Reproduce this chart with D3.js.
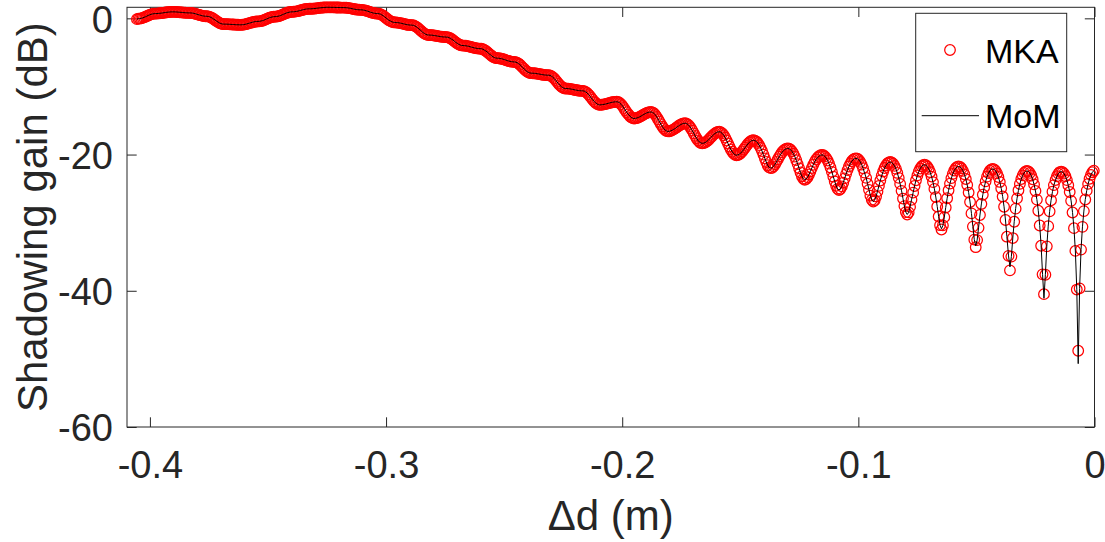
<!DOCTYPE html>
<html>
<head>
<meta charset="utf-8">
<script src="https://cdn.jsdelivr.net/npm/d3@7"></script>
<style>
  html, body { margin: 0; padding: 0; background: #fff; }
  svg { display: block; }
  text { font-family: "Liberation Sans", Arial, Helvetica, sans-serif; }
</style>
</head>
<body>
<svg id="chart" width="1105" height="542"></svg>
<script>
// Path difference Δd (m) at which both solvers were evaluated
const deltaD = [
-0.4055,
-0.4049,-0.4043,-0.4037,-0.4031,-0.4025,-0.4019,-0.4013,-0.4007,-0.4001,-0.3995,-0.3988,-0.3982,
-0.3976,-0.3970,-0.3964,-0.3958,-0.3952,-0.3946,-0.3940,-0.3934,-0.3928,-0.3922,-0.3916,-0.3910,
-0.3904,-0.3898,-0.3892,-0.3886,-0.3880,-0.3874,-0.3868,-0.3862,-0.3856,-0.3850,-0.3844,-0.3838,
-0.3832,-0.3826,-0.3820,-0.3814,-0.3808,-0.3802,-0.3796,-0.3790,-0.3783,-0.3777,-0.3771,-0.3765,
-0.3759,-0.3753,-0.3747,-0.3741,-0.3735,-0.3729,-0.3723,-0.3717,-0.3711,-0.3705,-0.3699,-0.3693,
-0.3687,-0.3681,-0.3675,-0.3669,-0.3663,-0.3657,-0.3651,-0.3645,-0.3639,-0.3633,-0.3627,-0.3621,
-0.3615,-0.3609,-0.3603,-0.3597,-0.3591,-0.3584,-0.3578,-0.3572,-0.3566,-0.3560,-0.3554,-0.3548,
-0.3542,-0.3536,-0.3530,-0.3524,-0.3518,-0.3512,-0.3506,-0.3500,-0.3494,-0.3488,-0.3482,-0.3476,
-0.3470,-0.3464,-0.3458,-0.3452,-0.3446,-0.3440,-0.3434,-0.3428,-0.3422,-0.3416,-0.3410,-0.3404,
-0.3398,-0.3392,-0.3386,-0.3379,-0.3373,-0.3367,-0.3361,-0.3355,-0.3349,-0.3343,-0.3337,-0.3331,
-0.3325,-0.3319,-0.3313,-0.3307,-0.3301,-0.3295,-0.3289,-0.3283,-0.3277,-0.3271,-0.3265,-0.3259,
-0.3253,-0.3247,-0.3241,-0.3235,-0.3229,-0.3223,-0.3217,-0.3211,-0.3205,-0.3199,-0.3193,-0.3187,
-0.3180,-0.3174,-0.3168,-0.3162,-0.3156,-0.3150,-0.3144,-0.3138,-0.3132,-0.3126,-0.3120,-0.3114,
-0.3108,-0.3102,-0.3096,-0.3090,-0.3084,-0.3078,-0.3072,-0.3066,-0.3060,-0.3054,-0.3048,-0.3042,
-0.3036,-0.3030,-0.3024,-0.3018,-0.3012,-0.3006,-0.3000,-0.2994,-0.2988,-0.2981,-0.2975,-0.2969,
-0.2963,-0.2957,-0.2951,-0.2945,-0.2939,-0.2933,-0.2927,-0.2921,-0.2915,-0.2909,-0.2903,-0.2897,
-0.2891,-0.2885,-0.2879,-0.2873,-0.2867,-0.2861,-0.2855,-0.2849,-0.2843,-0.2837,-0.2831,-0.2825,
-0.2819,-0.2813,-0.2807,-0.2801,-0.2795,-0.2789,-0.2783,-0.2776,-0.2770,-0.2764,-0.2758,-0.2752,
-0.2746,-0.2740,-0.2734,-0.2728,-0.2722,-0.2716,-0.2710,-0.2704,-0.2698,-0.2692,-0.2686,-0.2680,
-0.2674,-0.2668,-0.2662,-0.2656,-0.2650,-0.2644,-0.2638,-0.2632,-0.2626,-0.2620,-0.2614,-0.2608,
-0.2602,-0.2596,-0.2590,-0.2584,-0.2577,-0.2571,-0.2565,-0.2559,-0.2553,-0.2547,-0.2541,-0.2535,
-0.2529,-0.2523,-0.2517,-0.2511,-0.2505,-0.2499,-0.2493,-0.2487,-0.2481,-0.2475,-0.2469,-0.2463,
-0.2457,-0.2451,-0.2445,-0.2439,-0.2433,-0.2427,-0.2421,-0.2415,-0.2409,-0.2403,-0.2397,-0.2391,
-0.2385,-0.2378,-0.2372,-0.2366,-0.2360,-0.2354,-0.2348,-0.2342,-0.2336,-0.2330,-0.2324,-0.2318,
-0.2312,-0.2306,-0.2300,-0.2294,-0.2288,-0.2282,-0.2276,-0.2270,-0.2264,-0.2258,-0.2252,-0.2246,
-0.2240,-0.2234,-0.2228,-0.2222,-0.2216,-0.2210,-0.2204,-0.2198,-0.2192,-0.2186,-0.2180,-0.2173,
-0.2167,-0.2161,-0.2155,-0.2149,-0.2143,-0.2137,-0.2131,-0.2125,-0.2119,-0.2113,-0.2107,-0.2101,
-0.2095,-0.2089,-0.2083,-0.2077,-0.2071,-0.2065,-0.2059,-0.2053,-0.2047,-0.2041,-0.2035,-0.2029,
-0.2023,-0.2017,-0.2011,-0.2005,-0.1999,-0.1993,-0.1987,-0.1981,-0.1974,-0.1968,-0.1962,-0.1956,
-0.1950,-0.1944,-0.1938,-0.1932,-0.1926,-0.1920,-0.1914,-0.1908,-0.1902,-0.1896,-0.1890,-0.1884,
-0.1878,-0.1872,-0.1866,-0.1860,-0.1854,-0.1848,-0.1842,-0.1836,-0.1830,-0.1824,-0.1818,-0.1812,
-0.1806,-0.1800,-0.1794,-0.1788,-0.1782,-0.1775,-0.1769,-0.1763,-0.1757,-0.1751,-0.1745,-0.1739,
-0.1733,-0.1727,-0.1721,-0.1715,-0.1709,-0.1703,-0.1697,-0.1691,-0.1685,-0.1679,-0.1673,-0.1667,
-0.1661,-0.1655,-0.1649,-0.1643,-0.1637,-0.1631,-0.1625,-0.1619,-0.1613,-0.1607,-0.1601,-0.1595,
-0.1589,-0.1583,-0.1577,-0.1570,-0.1564,-0.1558,-0.1552,-0.1546,-0.1540,-0.1534,-0.1528,-0.1522,
-0.1516,-0.1510,-0.1504,-0.1498,-0.1492,-0.1486,-0.1480,-0.1474,-0.1468,-0.1462,-0.1456,-0.1450,
-0.1444,-0.1438,-0.1432,-0.1426,-0.1420,-0.1414,-0.1408,-0.1402,-0.1396,-0.1390,-0.1384,-0.1378,
-0.1371,-0.1365,-0.1359,-0.1353,-0.1347,-0.1341,-0.1335,-0.1329,-0.1323,-0.1317,-0.1311,-0.1305,
-0.1299,-0.1293,-0.1287,-0.1281,-0.1275,-0.1269,-0.1263,-0.1257,-0.1251,-0.1245,-0.1239,-0.1233,
-0.1227,-0.1221,-0.1215,-0.1209,-0.1203,-0.1197,-0.1191,-0.1185,-0.1179,-0.1172,-0.1166,-0.1160,
-0.1154,-0.1148,-0.1142,-0.1136,-0.1130,-0.1124,-0.1118,-0.1112,-0.1106,-0.1100,-0.1094,-0.1088,
-0.1082,-0.1076,-0.1070,-0.1064,-0.1058,-0.1052,-0.1046,-0.1040,-0.1034,-0.1028,-0.1022,-0.1016,
-0.1010,-0.1004,-0.0998,-0.0992,-0.0986,-0.0980,-0.0974,-0.0967,-0.0961,-0.0955,-0.0949,-0.0943,
-0.0937,-0.0931,-0.0925,-0.0919,-0.0913,-0.0907,-0.0901,-0.0895,-0.0889,-0.0883,-0.0877,-0.0871,
-0.0865,-0.0859,-0.0853,-0.0847,-0.0841,-0.0835,-0.0829,-0.0823,-0.0817,-0.0811,-0.0805,-0.0799,
-0.0793,-0.0787,-0.0781,-0.0775,-0.0768,-0.0762,-0.0756,-0.0750,-0.0744,-0.0738,-0.0732,-0.0726,
-0.0720,-0.0714,-0.0708,-0.0702,-0.0696,-0.0690,-0.0684,-0.0678,-0.0672,-0.0666,-0.0660,-0.0654,
-0.0648,-0.0642,-0.0636,-0.0630,-0.0624,-0.0618,-0.0612,-0.0606,-0.0600,-0.0594,-0.0588,-0.0582,
-0.0576,-0.0569,-0.0563,-0.0557,-0.0551,-0.0545,-0.0539,-0.0533,-0.0527,-0.0521,-0.0515,-0.0509,
-0.0503,-0.0497,-0.0491,-0.0485,-0.0479,-0.0473,-0.0467,-0.0461,-0.0455,-0.0449,-0.0443,-0.0437,
-0.0431,-0.0425,-0.0419,-0.0413,-0.0407,-0.0401,-0.0395,-0.0389,-0.0383,-0.0377,-0.0371,-0.0364,
-0.0358,-0.0352,-0.0346,-0.0340,-0.0334,-0.0328,-0.0322,-0.0316,-0.0310,-0.0304,-0.0298,-0.0292,
-0.0286,-0.0280,-0.0274,-0.0268,-0.0262,-0.0256,-0.0250,-0.0244,-0.0238,-0.0232,-0.0226,-0.0220,
-0.0214,-0.0208,-0.0202,-0.0196,-0.0190,-0.0184,-0.0178,-0.0172,-0.0165,-0.0159,-0.0153,-0.0147,
-0.0141,-0.0135,-0.0129,-0.0123,-0.0117,-0.0111,-0.0105,-0.0099,-0.0093,-0.0087,-0.0081,-0.0075,
-0.0069,-0.0063,-0.0057,-0.0051,-0.0045,-0.0039,-0.0033,-0.0027,-0.0021,-0.0015,-0.0009,-0.0003
];

// Shadowing gain (dB) from the MoM solver, drawn as a solid line
const momGain = [
-0.12,
-0.05,-0.04,0.00,0.06,0.14,0.23,0.33,0.42,0.51,0.59,0.65,0.69,
0.70,0.70,0.72,0.74,0.76,0.79,0.83,0.86,0.89,0.91,0.93,0.95,
0.95,0.95,0.94,0.93,0.91,0.89,0.88,0.86,0.84,0.82,0.81,0.80,
0.80,0.79,0.77,0.73,0.68,0.61,0.55,0.49,0.43,0.37,0.33,0.31,
0.30,0.28,0.22,0.13,0.01,-0.13,-0.28,-0.42,-0.56,-0.68,-0.77,-0.83,
-0.85,-0.85,-0.86,-0.86,-0.88,-0.89,-0.90,-0.91,-0.93,-0.94,-0.94,-0.95,
-0.95,-0.94,-0.92,-0.88,-0.83,-0.76,-0.70,-0.64,-0.58,-0.52,-0.48,-0.46,
-0.45,-0.44,-0.40,-0.35,-0.28,-0.19,-0.10,-0.01,0.08,0.15,0.20,0.24,
0.25,0.26,0.30,0.35,0.43,0.51,0.60,0.69,0.78,0.85,0.90,0.94,
0.95,0.96,0.98,1.02,1.06,1.12,1.18,1.23,1.29,1.33,1.37,1.39,
1.40,1.40,1.41,1.43,1.45,1.47,1.50,1.53,1.55,1.57,1.59,1.60,
1.62,1.62,1.62,1.61,1.61,1.61,1.60,1.59,1.59,1.59,1.58,1.58,
1.58,1.57,1.56,1.53,1.50,1.46,1.42,1.37,1.33,1.30,1.27,1.26,
1.25,1.24,1.21,1.17,1.11,1.05,0.98,0.90,0.84,0.78,0.74,0.71,
0.70,0.68,0.61,0.51,0.38,0.22,0.05,-0.12,-0.28,-0.41,-0.51,-0.58,
-0.60,-0.61,-0.63,-0.66,-0.70,-0.75,-0.80,-0.85,-0.90,-0.94,-0.97,-0.99,
-1.00,-1.02,-1.10,-1.21,-1.36,-1.54,-1.73,-1.91,-2.09,-2.24,-2.35,-2.43,
-2.45,-2.46,-2.47,-2.49,-2.53,-2.56,-2.60,-2.64,-2.68,-2.71,-2.73,-2.74,
-2.75,-2.77,-2.83,-2.93,-3.06,-3.21,-3.38,-3.54,-3.69,-3.82,-3.92,-3.98,
-4.00,-4.01,-4.03,-4.07,-4.11,-4.17,-4.23,-4.28,-4.34,-4.38,-4.42,-4.44,
-4.45,-4.47,-4.54,-4.65,-4.80,-4.97,-5.15,-5.33,-5.50,-5.65,-5.76,-5.83,
-5.85,-5.86,-5.89,-5.93,-5.99,-6.05,-6.13,-6.20,-6.26,-6.32,-6.36,-6.39,
-6.40,-6.43,-6.51,-6.64,-6.81,-7.01,-7.23,-7.44,-7.64,-7.81,-7.94,-8.02,
-8.05,-8.06,-8.07,-8.09,-8.13,-8.16,-8.20,-8.24,-8.28,-8.31,-8.33,-8.34,
-8.35,-8.38,-8.48,-8.64,-8.84,-9.07,-9.33,-9.58,-9.81,-10.01,-10.17,-10.27,
-10.30,-10.31,-10.32,-10.35,-10.39,-10.43,-10.48,-10.52,-10.56,-10.60,-10.63,-10.64,
-10.65,-10.68,-10.79,-10.95,-11.16,-11.41,-11.68,-11.94,-12.19,-12.40,-12.56,-12.67,
-12.70,-12.69,-12.67,-12.63,-12.59,-12.53,-12.48,-12.42,-12.36,-12.32,-12.28,-12.26,
-12.25,-12.29,-12.41,-12.61,-12.86,-13.16,-13.48,-13.79,-14.09,-14.34,-14.54,-14.66,
-14.70,-14.68,-14.64,-14.56,-14.46,-14.35,-14.23,-14.10,-13.99,-13.89,-13.81,-13.77,
-13.75,-13.80,-13.94,-14.17,-14.46,-14.81,-15.18,-15.54,-15.89,-16.18,-16.41,-16.55,
-16.60,-16.58,-16.52,-16.42,-16.30,-16.16,-16.00,-15.84,-15.70,-15.58,-15.48,-15.42,
-15.40,-15.45,-15.60,-15.83,-16.14,-16.49,-16.88,-17.26,-17.61,-17.92,-18.15,-18.30,
-18.35,-18.32,-18.24,-18.10,-17.93,-17.72,-17.50,-17.28,-17.08,-16.90,-16.76,-16.68,
-16.65,-16.71,-16.88,-17.16,-17.51,-17.93,-18.38,-18.82,-19.24,-19.59,-19.87,-20.04,
-20.10,-20.06,-19.95,-19.78,-19.55,-19.28,-19.00,-18.72,-18.45,-18.22,-18.05,-17.94,
-17.90,-17.95,-18.08,-18.31,-18.62,-19.02,-19.48,-20.01,-20.56,-21.10,-21.57,-21.89,
-22.00,-21.93,-21.73,-21.43,-21.07,-20.69,-20.31,-19.97,-19.66,-19.42,-19.24,-19.14,
-19.10,-19.15,-19.29,-19.54,-19.87,-20.30,-20.82,-21.40,-22.02,-22.64,-23.18,-23.56,
-23.70,-23.60,-23.33,-22.93,-22.46,-21.97,-21.50,-21.08,-20.72,-20.43,-20.22,-20.09,
-20.05,-20.10,-20.26,-20.52,-20.88,-21.34,-21.90,-22.55,-23.25,-23.95,-24.58,-25.04,
-25.20,-25.06,-24.68,-24.13,-23.50,-22.87,-22.28,-21.76,-21.33,-20.99,-20.75,-20.60,
-20.55,-20.61,-20.78,-21.07,-21.48,-22.01,-22.66,-23.42,-24.28,-25.18,-26.03,-26.66,
-26.90,-26.70,-26.15,-25.41,-24.60,-23.81,-23.10,-22.49,-21.98,-21.60,-21.32,-21.16,
-21.10,-21.16,-21.35,-21.66,-22.11,-22.70,-23.43,-24.31,-25.33,-26.46,-27.57,-28.45,
-28.80,-28.49,-27.69,-26.65,-25.59,-24.62,-23.77,-23.06,-22.49,-22.05,-21.74,-21.56,
-21.50,-21.57,-21.77,-22.10,-22.59,-23.23,-24.04,-25.04,-26.24,-27.62,-29.09,-30.37,
-30.90,-30.40,-29.19,-27.77,-26.42,-25.25,-24.26,-23.46,-22.83,-22.35,-22.01,-21.82,
-21.75,-21.82,-22.03,-22.39,-22.90,-23.59,-24.47,-25.58,-26.96,-28.64,-30.58,-32.49,
-33.40,-32.56,-30.76,-28.88,-27.25,-25.90,-24.80,-23.93,-23.24,-22.73,-22.38,-22.17,
-22.10,-22.17,-22.39,-22.76,-23.30,-24.02,-24.96,-26.15,-27.67,-29.61,-32.06,-34.88,
-36.50,-34.98,-32.26,-29.86,-27.94,-26.43,-25.25,-24.31,-23.59,-23.06,-22.69,-22.47,
-22.40,-22.47,-22.70,-23.08,-23.63,-24.38,-25.35,-26.61,-28.25,-30.41,-33.39,-37.59,
-41.10,-37.64,-33.48,-30.51,-28.34,-26.71,-25.45,-24.48,-23.73,-23.18,-22.80,-22.57,
-22.50,-22.58,-22.80,-23.19,-23.75,-24.51,-25.50,-26.80,-28.50,-30.81,-34.15,-39.82,
-50.70,-39.64,-33.95,-30.61,-28.30,-26.60,-25.30,-24.31,-23.55,-22.99,-22.60,-22.38
];

// Shadowing gain (dB) from the MKA model, drawn as open circles
const mkaGain = [
-0.12,
-0.05,-0.04,0.00,0.06,0.14,0.23,0.33,0.42,0.51,0.59,0.65,0.69,
0.70,0.70,0.72,0.74,0.76,0.79,0.83,0.86,0.89,0.91,0.93,0.95,
0.95,0.95,0.94,0.93,0.91,0.89,0.88,0.86,0.84,0.82,0.81,0.80,
0.80,0.79,0.77,0.73,0.68,0.61,0.55,0.49,0.43,0.37,0.33,0.31,
0.30,0.28,0.22,0.13,0.01,-0.13,-0.28,-0.42,-0.56,-0.68,-0.77,-0.83,
-0.85,-0.85,-0.86,-0.86,-0.88,-0.89,-0.90,-0.91,-0.93,-0.94,-0.94,-0.95,
-0.95,-0.94,-0.92,-0.88,-0.83,-0.76,-0.70,-0.64,-0.58,-0.52,-0.48,-0.46,
-0.45,-0.44,-0.40,-0.35,-0.28,-0.19,-0.10,-0.01,0.08,0.15,0.20,0.24,
0.25,0.26,0.30,0.35,0.43,0.51,0.60,0.69,0.78,0.85,0.90,0.94,
0.95,0.96,0.98,1.02,1.06,1.12,1.18,1.23,1.29,1.33,1.37,1.39,
1.40,1.40,1.41,1.43,1.45,1.47,1.50,1.53,1.55,1.57,1.59,1.60,
1.62,1.62,1.62,1.61,1.61,1.61,1.60,1.59,1.59,1.59,1.58,1.58,
1.58,1.57,1.56,1.53,1.50,1.46,1.42,1.37,1.33,1.30,1.27,1.26,
1.25,1.24,1.21,1.17,1.11,1.05,0.98,0.90,0.84,0.78,0.74,0.71,
0.70,0.68,0.61,0.51,0.38,0.22,0.05,-0.12,-0.28,-0.41,-0.51,-0.58,
-0.60,-0.61,-0.63,-0.66,-0.70,-0.75,-0.80,-0.85,-0.90,-0.94,-0.97,-0.99,
-1.00,-1.02,-1.10,-1.21,-1.36,-1.54,-1.73,-1.91,-2.09,-2.24,-2.35,-2.43,
-2.45,-2.46,-2.47,-2.49,-2.53,-2.56,-2.60,-2.64,-2.68,-2.71,-2.73,-2.74,
-2.75,-2.77,-2.83,-2.93,-3.06,-3.21,-3.38,-3.54,-3.69,-3.82,-3.92,-3.98,
-4.00,-4.01,-4.03,-4.07,-4.11,-4.17,-4.23,-4.28,-4.34,-4.38,-4.42,-4.44,
-4.45,-4.47,-4.54,-4.65,-4.80,-4.97,-5.15,-5.33,-5.50,-5.65,-5.76,-5.83,
-5.85,-5.86,-5.89,-5.93,-5.99,-6.05,-6.13,-6.20,-6.26,-6.32,-6.36,-6.39,
-6.40,-6.43,-6.51,-6.64,-6.81,-7.01,-7.23,-7.44,-7.64,-7.81,-7.94,-8.02,
-8.05,-8.06,-8.07,-8.09,-8.13,-8.16,-8.20,-8.24,-8.28,-8.31,-8.33,-8.34,
-8.35,-8.38,-8.48,-8.64,-8.84,-9.07,-9.33,-9.58,-9.81,-10.01,-10.17,-10.27,
-10.30,-10.31,-10.32,-10.35,-10.39,-10.43,-10.48,-10.52,-10.56,-10.60,-10.63,-10.64,
-10.65,-10.68,-10.79,-10.95,-11.16,-11.41,-11.68,-11.94,-12.19,-12.40,-12.56,-12.67,
-12.70,-12.69,-12.67,-12.63,-12.59,-12.53,-12.48,-12.42,-12.36,-12.32,-12.28,-12.26,
-12.25,-12.29,-12.41,-12.61,-12.86,-13.16,-13.48,-13.79,-14.09,-14.34,-14.54,-14.66,
-14.70,-14.68,-14.64,-14.56,-14.46,-14.35,-14.23,-14.10,-13.99,-13.89,-13.81,-13.77,
-13.75,-13.80,-13.94,-14.17,-14.46,-14.81,-15.18,-15.54,-15.89,-16.18,-16.41,-16.55,
-16.60,-16.58,-16.52,-16.42,-16.30,-16.16,-16.00,-15.84,-15.70,-15.58,-15.48,-15.42,
-15.40,-15.45,-15.60,-15.83,-16.14,-16.49,-16.88,-17.26,-17.61,-17.92,-18.15,-18.30,
-18.35,-18.32,-18.24,-18.10,-17.93,-17.72,-17.50,-17.28,-17.08,-16.90,-16.76,-16.68,
-16.65,-16.71,-16.88,-17.16,-17.51,-17.93,-18.38,-18.82,-19.24,-19.59,-19.87,-20.04,
-20.10,-20.06,-19.95,-19.78,-19.55,-19.28,-19.00,-18.72,-18.45,-18.22,-18.05,-17.94,
-17.90,-17.95,-18.08,-18.31,-18.62,-19.02,-19.48,-20.01,-20.56,-21.10,-21.57,-21.89,
-22.00,-21.93,-21.73,-21.43,-21.07,-20.69,-20.31,-19.97,-19.66,-19.42,-19.24,-19.14,
-19.10,-19.15,-19.29,-19.54,-19.87,-20.30,-20.82,-21.40,-22.02,-22.64,-23.18,-23.56,
-23.70,-23.60,-23.33,-22.93,-22.46,-21.97,-21.50,-21.08,-20.72,-20.43,-20.22,-20.09,
-20.05,-20.10,-20.26,-20.52,-20.88,-21.34,-21.90,-22.55,-23.25,-23.95,-24.58,-25.04,
-25.20,-25.06,-24.68,-24.13,-23.50,-22.87,-22.28,-21.76,-21.33,-20.99,-20.75,-20.60,
-20.55,-20.61,-20.78,-21.07,-21.48,-22.01,-22.66,-23.42,-24.28,-25.18,-26.03,-26.66,
-26.90,-26.70,-26.15,-25.41,-24.60,-23.81,-23.10,-22.49,-21.98,-21.60,-21.32,-21.16,
-21.10,-21.16,-21.35,-21.66,-22.11,-22.70,-23.43,-24.31,-25.33,-26.46,-27.57,-28.45,
-28.80,-28.49,-27.69,-26.65,-25.59,-24.62,-23.77,-23.06,-22.49,-22.05,-21.74,-21.56,
-21.50,-21.57,-21.77,-22.10,-22.59,-23.23,-24.04,-25.04,-26.24,-27.62,-29.09,-30.37,
-31.00,-30.40,-29.19,-27.77,-26.42,-25.25,-24.26,-23.46,-22.83,-22.35,-22.01,-21.82,
-21.75,-21.82,-22.03,-22.39,-22.90,-23.59,-24.47,-25.58,-26.96,-28.64,-30.58,-32.49,
-33.60,-32.56,-30.76,-28.88,-27.25,-25.90,-24.80,-23.93,-23.24,-22.73,-22.38,-22.17,
-22.10,-22.17,-22.39,-22.76,-23.30,-24.02,-24.96,-26.15,-27.67,-29.61,-32.06,-34.88,
-37.00,-34.98,-32.26,-29.86,-27.94,-26.43,-25.25,-24.31,-23.59,-23.06,-22.69,-22.47,
-22.40,-22.47,-22.70,-23.08,-23.63,-24.38,-25.35,-26.61,-28.25,-30.41,-33.39,-37.59,
-40.50,-37.64,-33.48,-30.51,-28.34,-26.71,-25.45,-24.48,-23.73,-23.18,-22.80,-22.57,
-22.50,-22.58,-22.80,-23.19,-23.75,-24.51,-25.50,-26.80,-28.50,-30.81,-34.15,-39.82,
-48.80,-39.64,-33.95,-30.61,-28.30,-26.60,-25.30,-24.31,-23.55,-22.99,-22.60,-22.38
];

const xTickValues = [-0.4, -0.3, -0.2, -0.1, 0];
const yTickValues = [0, -20, -40, -60];
const seriesNames = ["MKA", "MoM"];
const xAxisTitle = "\u0394d (m)";
const yAxisTitle = "Shadowing gain (dB)";

// ---- layout ----
const width = 1105, height = 542;
const frame = { left: 127, right: 1094.5, top: 7.3, bottom: 427 };
const ink = "#262626";
const tickLen = 9.7;
const markerR = 5.3;

const svg = d3.select("#chart");
svg.append("rect").attr("width", width).attr("height", height).attr("fill", "#fff");

const x = d3.scaleLinear().domain([-0.4097, 0]).range([frame.left, frame.right]);
const y = d3.scaleLinear().domain([-60, 1.62]).range([frame.bottom, frame.top]);

const fmt = d => (d === 0 ? "0" : String(d));

// bottom axis: inward ticks + labels
const gBottom = svg.append("g")
  .attr("transform", `translate(0,${frame.bottom})`)
  .call(d3.axisBottom(x).tickValues(xTickValues).tickSizeInner(-tickLen).tickSizeOuter(0).tickFormat(fmt));
gBottom.selectAll("text")
  .attr("y", 51).attr("dy", null)
  .attr("font-size", 38).attr("fill", ink);

// top axis: ticks only
const gTop = svg.append("g")
  .attr("transform", `translate(0,${frame.top})`)
  .call(d3.axisTop(x).tickValues(xTickValues).tickSizeInner(-tickLen).tickSizeOuter(0).tickFormat(""));

// left axis: inward ticks + labels
const gLeft = svg.append("g")
  .attr("transform", `translate(${frame.left},0)`)
  .call(d3.axisLeft(y).tickValues(yTickValues).tickSizeInner(-tickLen).tickSizeOuter(0).tickFormat(fmt));
gLeft.selectAll("text")
  .attr("x", -14).attr("dy", "0.36em")
  .attr("font-size", 38).attr("fill", ink);

// right axis: ticks only
const gRight = svg.append("g")
  .attr("transform", `translate(${frame.right},0)`)
  .call(d3.axisRight(y).tickValues(yTickValues).tickSizeInner(-tickLen).tickSizeOuter(0).tickFormat(""));

[gBottom, gTop, gLeft, gRight].forEach(g => {
  g.select(".domain").remove();
  g.selectAll(".tick line").attr("stroke", ink).attr("stroke-width", 1);
  g.attr("font-family", null);
});

// axes frame
svg.append("rect")
  .attr("x", frame.left).attr("y", frame.top)
  .attr("width", frame.right - frame.left).attr("height", frame.bottom - frame.top)
  .attr("fill", "none").attr("stroke", ink).attr("stroke-width", 1);

// axis titles
svg.append("text")
  .attr("x", (frame.left + frame.right) / 2).attr("y", 530)
  .attr("text-anchor", "middle").attr("font-size", 42).attr("fill", ink)
  .text(xAxisTitle);

svg.append("text")
  .attr("transform", `translate(47,${(frame.top + frame.bottom) / 2}) rotate(-90)`)
  .attr("text-anchor", "middle").attr("font-size", 42).attr("fill", ink)
  .text(yAxisTitle);

// MKA: open red circles
const pts = deltaD.map((d, i) => ({ d, mka: mkaGain[i], mom: momGain[i] }));
svg.append("g")
  .selectAll("circle")
  .data(pts)
  .join("circle")
  .attr("cx", p => x(p.d))
  .attr("cy", p => y(p.mka))
  .attr("r", markerR)
  .attr("fill", "none")
  .attr("stroke", "#ff0000")
  .attr("stroke-width", 1.25);

// MoM: thin black line
svg.append("path")
  .datum(pts)
  .attr("fill", "none")
  .attr("stroke", "#000")
  .attr("stroke-width", 1)
  .attr("d", d3.line().x(p => x(p.d)).y(p => y(p.mom)));

// legend
const legend = svg.append("g");
legend.append("rect")
  .attr("x", 915.7).attr("y", 13.3).attr("width", 151).attr("height", 138.4)
  .attr("fill", "#fff").attr("stroke", ink).attr("stroke-width", 1);
legend.append("circle")
  .attr("cx", 950).attr("cy", 50).attr("r", markerR)
  .attr("fill", "none").attr("stroke", "#ff0000").attr("stroke-width", 1.25);
legend.append("line")
  .attr("x1", 921.7).attr("x2", 979).attr("y1", 115.7).attr("y2", 115.7)
  .attr("stroke", "#000").attr("stroke-width", 1);
legend.selectAll("text.entry")
  .data(seriesNames)
  .join("text")
  .attr("class", "entry")
  .attr("x", 985)
  .attr("y", (d, i) => (i === 0 ? 63.3 : 128.3))
  .attr("font-size", 34)
  .attr("fill", "#000")
  .text(d => d);
</script>
</body>
</html>
